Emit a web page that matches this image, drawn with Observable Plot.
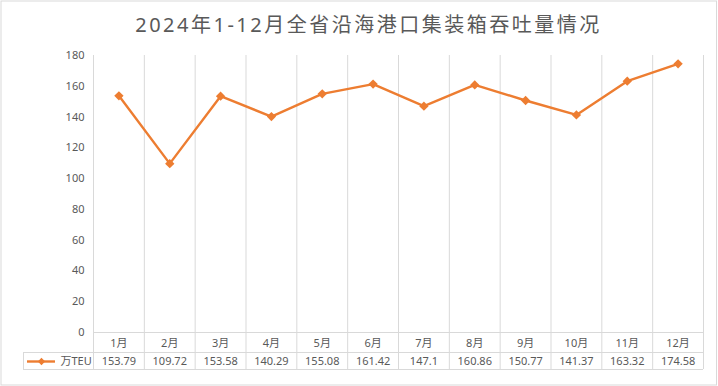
<!DOCTYPE html>
<html><head><meta charset="utf-8">
<script src="https://cdn.jsdelivr.net/npm/d3@7"></script>
<script src="https://cdn.jsdelivr.net/npm/@observablehq/plot@0.6"></script>
<style>body{margin:0;background:#fff}</style></head>
<body><div id="chart"></div>
<script>
const title = "2024年1-12月全省沿海港口集装箱吞吐量情况";
const months = ["1月","2月","3月","4月","5月","6月","7月","8月","9月","10月","11月","12月"];
const values = [153.79,109.72,153.58,140.29,155.08,161.42,147.1,160.86,150.77,141.37,163.32,174.58];
const seriesName = "万TEU";
const yTicks = [0,20,40,60,80,100,120,140,160,180];

const data = months.map((m,i)=>({month:m, value:values[i], label:String(values[i]), pos:i+0.5}));

const W=718,H=386, mL=93, mR=15, mT=55, mB=54;
const frameW = W-mL-mR;
const frameH = H-mT-mB;
const orange="#ED7D31", grid="#D9D9D9", txt="#595959";

const chart = Plot.plot({
  width:W, height:H, marginLeft:mL, marginRight:mR, marginTop:mT, marginBottom:mB,
  style:{fontFamily:'"Noto Sans","Noto Sans CJK SC",sans-serif', fontSize:"11px", color:txt, background:"#fff"},
  x:{type:"linear", domain:[0,months.length], axis:null},
  y:{domain:[0,180]},
  marks:[
    Plot.frame({stroke:grid, insetTop:-(mT-0.5), insetLeft:-(mL-0.5), insetRight:-(mR-2), insetBottom:-(mB-1.5)}),
    Plot.ruleX(d3.range(months.length+1), {stroke:grid, insetBottom:-37}),
    Plot.ruleY([0], {stroke:grid}),
    Plot.ruleY([0], {stroke:grid, dy:20, insetLeft:-70}),
    Plot.ruleY([0], {stroke:grid, dy:37, insetLeft:-70}),
    Plot.ruleX([0], {stroke:grid, dx:-70, insetTop:frameH+20, insetBottom:-37}),
    Plot.axisY({ticks:yTicks, tickSize:0, tickPadding:9, fontSize:11, label:null}),
    Plot.line(data, {x:"pos", y:"value", stroke:orange, strokeWidth:2.4, strokeLinejoin:"round"}),
    Plot.dot(data, {x:"pos", y:"value", symbol:"diamond2", r:4.2, fill:orange, stroke:"none"}),
    Plot.text(data, {x:"pos", text:"month", frameAnchor:"bottom", lineAnchor:"middle", dy:10.5, fill:txt, fontSize:11}),
    Plot.text(data, {x:"pos", text:"label", frameAnchor:"bottom", lineAnchor:"middle", dy:29, fill:txt, fontSize:11}),
    Plot.ruleY([0], {stroke:orange, strokeWidth:2.4, dy:29, insetLeft:-66, insetRight:frameW+38}),
    Plot.dot([seriesName], {frameAnchor:"bottom-left", dx:-52, dy:29, symbol:"diamond2", r:3.3, fill:orange, stroke:"none"}),
    Plot.text([seriesName], {frameAnchor:"bottom-left", lineAnchor:"middle", dx:-33, dy:29, textAnchor:"start", fill:txt, fontSize:11}),
    Plot.text([title], {frameAnchor:"top", lineAnchor:"middle", dx:-30, dy:-30, fontSize:20, fill:txt})
  ]
});
d3.select(chart).selectAll("text").filter(function(){return this.textContent===title;}).attr("letter-spacing","2.5px");
document.getElementById("chart").appendChild(chart);
</script>
</body></html>
